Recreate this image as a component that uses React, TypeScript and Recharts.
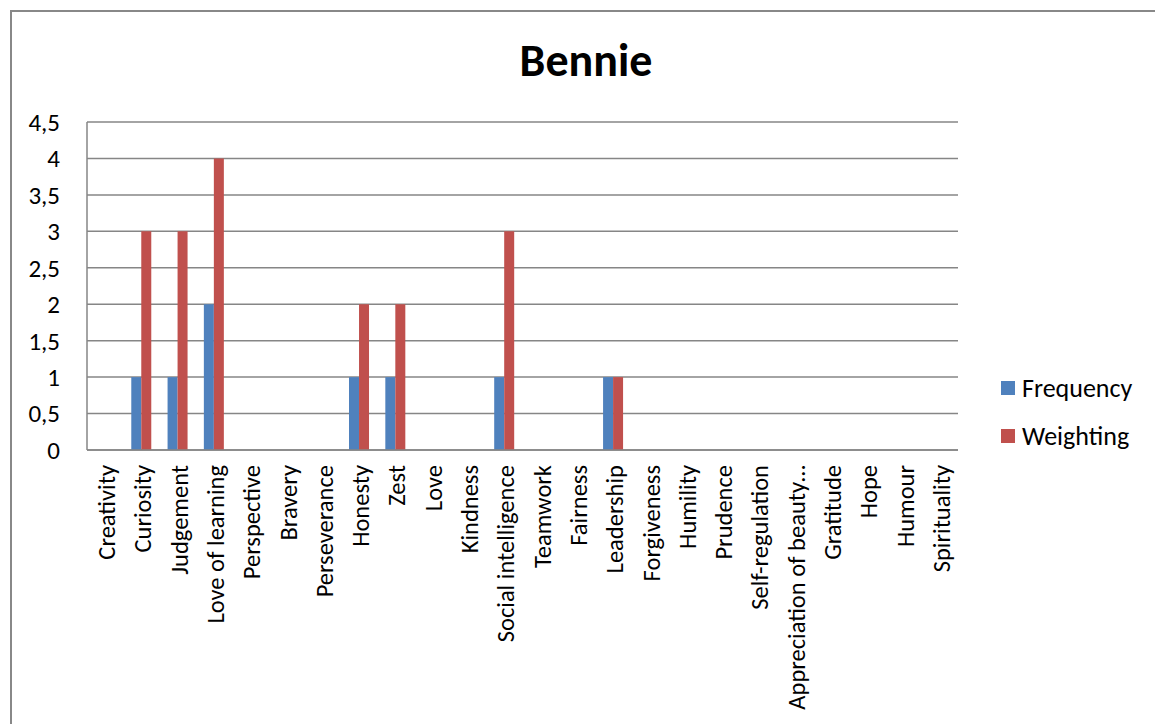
import { BarChart, Bar, XAxis, YAxis, CartesianGrid } from "recharts";

const strengths = [
  "Creativity", "Curiosity", "Judgement", "Love of learning", "Perspective", "Bravery",
  "Perseverance", "Honesty", "Zest", "Love", "Kindness", "Social intelligence", "Teamwork",
  "Fairness", "Leadership", "Forgiveness", "Humility", "Prudence", "Self-regulation",
  "Appreciation of beauty…", "Gratitude", "Hope", "Humour", "Spirituality",
];
const frequency = [0, 1, 1, 2, 0, 0, 0, 1, 1, 0, 0, 1, 0, 0, 1, 0, 0, 0, 0, 0, 0, 0, 0, 0];
const weighting = [0, 3, 3, 4, 0, 0, 0, 2, 2, 0, 0, 3, 0, 0, 1, 0, 0, 0, 0, 0, 0, 0, 0, 0];
const yTicks = [0, 0.5, 1, 1.5, 2, 2.5, 3, 3.5, 4, 4.5];

const BLUE = "#4F81BD";
const RED = "#C0504D";
const GRID = "#868686";
const FONT = "Carlito, Calibri, Lato, sans-serif";

const data = strengths.map((name, i) => ({ name, Frequency: frequency[i], Weighting: weighting[i] }));

const series = [
  { key: "Frequency", color: BLUE },
  { key: "Weighting", color: RED },
];

const CategoryTick = ({ x, y, payload }: any) => (
  <text
    x={0}
    y={0}
    transform={`translate(${x + 2},${y + 7}) rotate(-90)`}
    textAnchor="end"
    dominantBaseline="central"
    fontFamily={FONT}
    fontSize={24.5}
    fill="#000"
  >
    {payload.value}
  </text>
);

export default function App() {
  return (
    <div style={{ position: "absolute", left: 0, top: 0, width: 1155, height: 724, overflow: "hidden", background: "#fff" }}>
      <div
        style={{
          position: "absolute", left: 10, top: 10, width: 1300, height: 900,
          borderLeft: "2px solid #888", borderTop: "2px solid #888",
        }}
      />
      <div
        style={{
          position: "absolute", left: 0, top: 32, width: 1172, textAlign: "center",
          fontFamily: FONT, fontWeight: "bold", fontSize: 46,
        }}
      >
        Bennie
      </div>
      <div style={{ position: "absolute", left: 0, top: 0 }}>
        <BarChart
          width={1155}
          height={724}
          data={data}
          margin={{ top: 122, right: 197, bottom: 0, left: 0 }}
          barCategoryGap="22%"
          barGap={0}
        >
          <CartesianGrid vertical={false} stroke={GRID} strokeWidth={1.5} />
          <XAxis
            dataKey="name"
            interval={0}
            height={274}
            tick={<CategoryTick />}
            tickLine={false}
            axisLine={{ stroke: GRID, strokeWidth: 1.5 }}
          />
          <YAxis
            width={87}
            domain={[0, 4.5]}
            ticks={yTicks}
            interval={0}
            tickFormatter={(v: number) => String(v).replace(".", ",")}
            tickLine={false}
            tickSize={0}
            tickMargin={27}
            axisLine={{ stroke: GRID, strokeWidth: 1.5 }}
            tick={{ fill: "#000", fontSize: 25, fontFamily: FONT }}
          />
          {series.map((s) => (
            <Bar key={s.key} dataKey={s.key} fill={s.color} isAnimationActive={false} />
          ))}
        </BarChart>
      </div>
      <div style={{ position: "absolute", left: 1001, top: 364, fontFamily: FONT, fontSize: 26, color: "#000" }}>
        {series.map((s) => (
          <div key={s.key} style={{ display: "flex", alignItems: "center", height: 48 }}>
            <span style={{ width: 14, height: 14, background: s.color, marginRight: 7, display: "inline-block" }} />
            {s.key}
          </div>
        ))}
      </div>
    </div>
  );
}
